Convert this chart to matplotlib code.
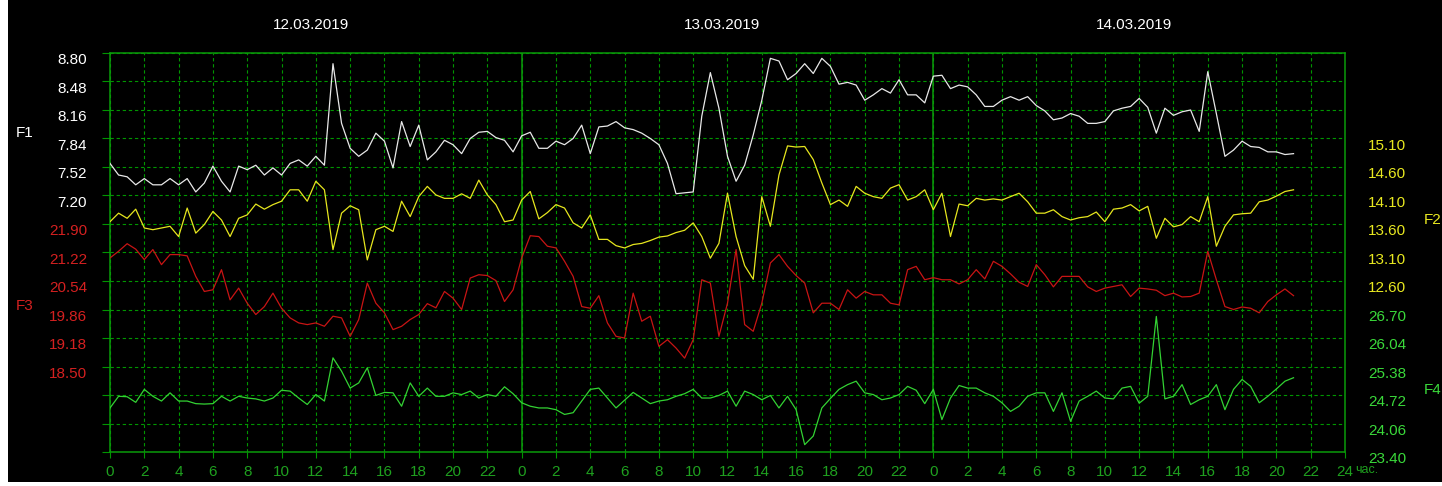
import numpy as np
import matplotlib
matplotlib.use("Agg")
import matplotlib.pyplot as plt
from matplotlib.transforms import ScaledTranslation

# half-hour samples, 12.03.2019 00:00 .. 14.03.2019 21:00
HOURS = np.arange(0, 69.01, 0.5)
DAYS = ["12.03.2019", "13.03.2019", "14.03.2019"]

F1 = [7.56, 7.43, 7.41, 7.32, 7.39, 7.32, 7.32, 7.39, 7.32, 7.39, 7.24, 7.34, 7.53,
      7.36, 7.24, 7.53, 7.49, 7.54, 7.43, 7.51, 7.43, 7.56, 7.60, 7.53, 7.64,
      7.54, 8.68, 8.01, 7.73, 7.64, 7.71, 7.90, 7.81, 7.51, 8.03, 7.75, 7.99,
      7.60, 7.69, 7.82, 7.77, 7.67, 7.84, 7.91, 7.92, 7.85, 7.82, 7.69, 7.87,
      7.91, 7.73, 7.73, 7.81, 7.77, 7.84, 7.99, 7.67, 7.97, 7.98, 8.03, 7.96,
      7.94, 7.90, 7.84, 7.77, 7.56, 7.22, 7.23, 7.24, 8.09, 8.58, 8.18, 7.64,
      7.36, 7.54, 7.88, 8.27, 8.74, 8.71, 8.50, 8.57, 8.68, 8.57, 8.74, 8.65,
      8.45, 8.47, 8.44, 8.27, 8.33, 8.40, 8.35, 8.50, 8.33, 8.33, 8.24, 8.54,
      8.55, 8.40, 8.44, 8.42, 8.33, 8.20, 8.20, 8.27, 8.31, 8.27, 8.31, 8.21,
      8.15, 8.05, 8.07, 8.12, 8.09, 8.01, 8.01, 8.03, 8.15, 8.18, 8.20, 8.29,
      8.19, 7.90, 8.18, 8.10, 8.14, 8.16, 7.92, 8.59, 8.12, 7.64, 7.71, 7.81,
      7.75, 7.74, 7.69, 7.69, 7.66, 7.67]

F2 = [13.64, 13.79, 13.70, 13.86, 13.53, 13.50, 13.53, 13.56, 13.38, 13.88, 13.44, 13.59,
      13.82, 13.67, 13.38, 13.70, 13.76, 13.95, 13.86, 13.94, 14.00, 14.20, 14.20, 14.00, 14.35,
      14.20, 13.15, 13.79, 13.92, 13.85, 12.97, 13.50, 13.56, 13.47, 14.00, 13.73, 14.08,
      14.26, 14.11, 14.05, 14.05, 14.13, 14.05, 14.37, 14.11, 13.94, 13.64, 13.67, 14.02,
      14.17, 13.69, 13.80, 13.94, 13.88, 13.62, 13.53, 13.76, 13.33, 13.33, 13.22, 13.18,
      13.24, 13.26, 13.31, 13.37, 13.39, 13.45, 13.49, 13.62, 13.38, 13.00, 13.26, 14.14,
      13.38, 12.87, 12.63, 14.08, 13.56, 14.46, 14.97, 14.95, 14.96, 14.73, 14.32, 13.94,
      14.02, 13.91, 14.26, 14.14, 14.08, 14.05, 14.23, 14.29, 14.02, 14.08, 14.20, 13.85,
      14.14, 13.38, 13.95, 13.92, 14.05, 14.02, 14.04, 14.02, 14.08, 14.14, 13.99, 13.79,
      13.79, 13.85, 13.73, 13.67, 13.71, 13.73, 13.81, 13.64, 13.86, 13.88, 13.94, 13.83,
      13.91, 13.35, 13.70, 13.55, 13.59, 13.73, 13.64, 14.08, 13.21, 13.56, 13.76, 13.78,
      13.79, 13.99, 14.02, 14.09, 14.17, 14.20]

F3 = [21.09, 21.25, 21.43, 21.30, 21.05, 21.29, 20.93, 21.17, 21.17, 21.14, 20.65, 20.29,
      20.33, 20.81, 20.09, 20.37, 20.01, 19.74, 19.93, 20.25, 19.89, 19.66, 19.54, 19.50, 19.54,
      19.46, 19.70, 19.66, 19.22, 19.62, 20.49, 20.01, 19.78, 19.38, 19.46, 19.62, 19.74,
      20.00, 19.90, 20.29, 20.13, 19.86, 20.61, 20.69, 20.67, 20.55, 20.05, 20.33, 21.09,
      21.62, 21.60, 21.37, 21.33, 21.01, 20.65, 19.93, 19.89, 20.19, 19.54, 19.22, 19.18,
      20.25, 19.58, 19.70, 18.98, 19.14, 18.94, 18.70, 19.14, 20.57, 20.49, 19.22, 20.01,
      21.29, 19.50, 19.34, 20.01, 20.97, 21.17, 20.89, 20.67, 20.49, 19.78, 20.01, 20.01,
      19.86, 20.33, 20.13, 20.29, 20.21, 20.21, 20.01, 19.97, 20.81, 20.89, 20.57, 20.62,
      20.57, 20.57, 20.47, 20.57, 20.81, 20.59, 21.01, 20.89, 20.71, 20.51, 20.41, 20.93,
      20.69, 20.40, 20.65, 20.65, 20.65, 20.40, 20.29, 20.37, 20.41, 20.45, 20.17, 20.37,
      20.35, 20.32, 20.19, 20.25, 20.16, 20.17, 20.25, 21.25, 20.57, 19.93, 19.86, 19.92,
      19.89, 19.78, 20.05, 20.21, 20.35, 20.19]

F4 = [24.42, 24.69, 24.68, 24.55, 24.85, 24.69, 24.58, 24.77, 24.58, 24.58, 24.52, 24.51,
      24.52, 24.69, 24.58, 24.69, 24.65, 24.63, 24.58, 24.65, 24.83, 24.81, 24.65, 24.50, 24.73,
      24.58, 25.58, 25.27, 24.88, 25.00, 25.35, 24.71, 24.78, 24.77, 24.46, 25.00, 24.69,
      24.88, 24.69, 24.69, 24.77, 24.73, 24.81, 24.65, 24.73, 24.69, 24.91, 24.75, 24.54,
      24.46, 24.42, 24.42, 24.38, 24.27, 24.31, 24.58, 24.85, 24.88, 24.65, 24.42, 24.60,
      24.78, 24.65, 24.52, 24.58, 24.61, 24.69, 24.75, 24.85, 24.65, 24.65, 24.71, 24.81,
      24.46, 24.81, 24.73, 24.61, 24.71, 24.42, 24.69, 24.38, 23.57, 23.77, 24.42, 24.64,
      24.85, 24.96, 25.04, 24.77, 24.73, 24.61, 24.65, 24.73, 24.92, 24.83, 24.52, 24.85,
      24.15, 24.65, 24.94, 24.88, 24.88, 24.77, 24.69, 24.54, 24.34, 24.46, 24.69, 24.77,
      24.77, 24.34, 24.77, 24.11, 24.58, 24.69, 24.81, 24.65, 24.63, 24.88, 24.92, 24.53,
      24.69, 26.54, 24.63, 24.69, 24.96, 24.50, 24.61, 24.69, 24.96, 24.38, 24.85, 25.08,
      24.92, 24.54, 24.69, 24.86, 25.04, 25.12]

F1_TICKS = [8.80, 8.48, 8.16, 7.84, 7.52, 7.20]
F2_TICKS = [15.10, 14.60, 14.10, 13.60, 13.10, 12.60]
F3_TICKS = [21.90, 21.22, 20.54, 19.86, 19.18, 18.50]
F4_TICKS = [26.70, 26.04, 25.38, 24.72, 24.06, 23.40]

GRID_GREEN = "#009600"
FRAME_GREEN = "#0a9a0a"
FONT = "Liberation Sans"


def add_series(fig, base, values, ticks, ylim, color, text_color, side):
    ax = base.twinx()
    ax.set_ylim(*ylim)
    ax.plot(HOURS, values, color=color, lw=0.9)
    ax.set_yticks(ticks)
    ax.set_yticklabels([f"{t:.2f}" for t in ticks], family=FONT)
    if side == "left":
        ax.yaxis.tick_left()
    else:
        ax.yaxis.tick_right()
    ax.tick_params(axis="y", length=0, pad=16.5, labelcolor=text_color, labelsize=11)
    for spine in ax.spines.values():
        spine.set_visible(False)
    shift = ScaledTranslation(0, -4 / 72, fig.dpi_scale_trans)
    for lab in ax.get_yticklabels():
        lab.set_transform(lab.get_transform() + shift)
    return ax


def main():
    fig = plt.figure(figsize=(14.42, 4.86), dpi=100, facecolor="white")
    fig.patches.append(plt.Rectangle((8 / 1442, 4 / 486), 1, 1, transform=fig.transFigure,
                                     facecolor="black", edgecolor="none", zorder=-5))

    base = fig.add_axes([110 / 1442, 34 / 486, 1235 / 1442, 399 / 486])
    base.set_facecolor("black")
    base.set_xlim(0, 72)
    base.set_ylim(14, 0)
    base.set_yticks(range(15))
    base.set_yticklabels([])
    xt = np.arange(0, 73, 2)
    base.set_xticks(xt)
    base.set_xticklabels([str(int(h) % 24) if h < 72 else "24" for h in xt], family=FONT)
    base.grid(True, color=GRID_GREEN, linestyle=(0, (3, 2.5)), lw=0.8)
    base.tick_params(axis="y", left=False, right=True, length=6, width=0.8, color=GRID_GREEN)
    base.tick_params(axis="x", length=4, width=0.8, color=GRID_GREEN, pad=5,
                     labelcolor="#1fa01f", labelsize=11)
    for spine in base.spines.values():
        spine.set_color(FRAME_GREEN)
        spine.set_linewidth(1.1)
    for day_start in (24, 48):
        base.axvline(day_start, color=FRAME_GREEN, lw=1.1)

    for i, day in enumerate(DAYS):
        base.text(24 * i + 11.7, 1.07, day, transform=base.get_xaxis_transform(),
                  ha="center", va="center", color="white", fontsize=11, family=FONT)
    base.text(72.6, -0.045, "час.", transform=base.get_xaxis_transform(),
              ha="left", va="center", color="#1fa01f", fontsize=9, family=FONT)

    add_series(fig, base, F1, F1_TICKS, (8.80 - 14 * 0.32, 8.80), "#e8e8e8", "white", "left")
    add_series(fig, base, F3, F3_TICKS, (25.98 - 14 * 0.68, 25.98), "#c81414", "#d42020", "left")
    add_series(fig, base, F2, F2_TICKS, (16.60 - 14 * 0.50, 16.60), "#e6e61e", "#e8e820", "right")
    add_series(fig, base, F4, F4_TICKS, (23.40, 23.40 + 14 * 0.66), "#33d233", "#3ad83a", "right")

    fig.text(25 / 1442, 1 - 133 / 486, "F1", ha="center", va="center", color="white",
             fontsize=11, family=FONT)
    fig.text(25 / 1442, 1 - 306 / 486, "F3", ha="center", va="center", color="#d42020",
             fontsize=11, family=FONT)
    fig.text(1424 / 1442, 1 - 220 / 486, "F2", ha="left", va="center", color="#e8e820",
             fontsize=11, family=FONT)
    fig.text(1424 / 1442, 1 - 390 / 486, "F4", ha="left", va="center", color="#3ad83a",
             fontsize=11, family=FONT)

    fig.savefig("out.png", dpi=100, facecolor=fig.get_facecolor())


if __name__ == "__main__":
    main()
